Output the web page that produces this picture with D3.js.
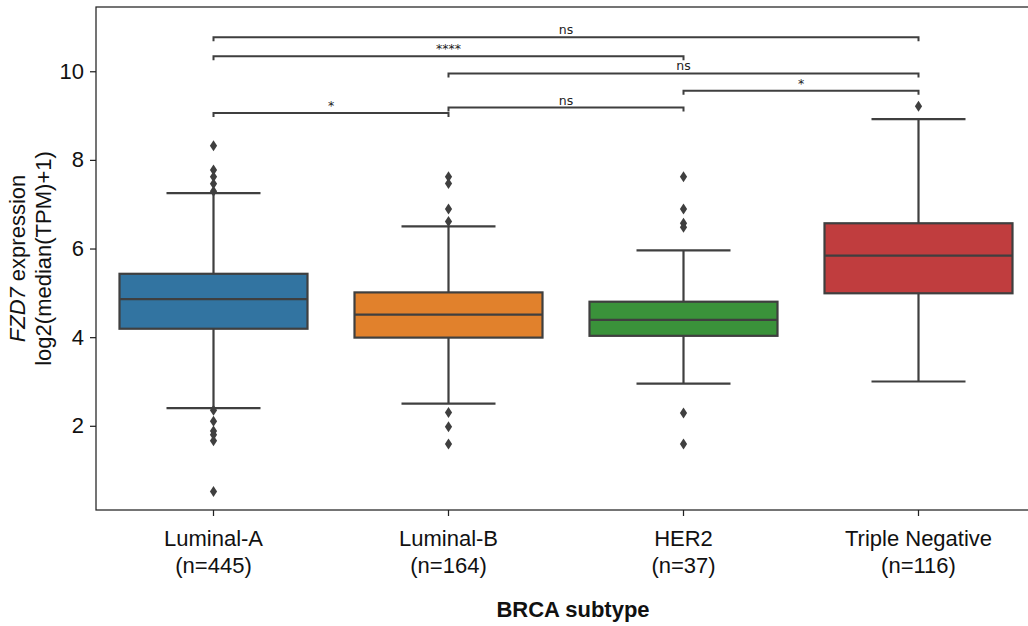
<!DOCTYPE html>
<html lang="en">
<head>
<meta charset="UTF-8">
<title>FZD7 expression by BRCA subtype</title>
<style>
    body { margin: 0; background: #ffffff; }
    svg { display: block; }
    .tick text { font-family: "Liberation Sans", Arial, sans-serif; }
</style>
<script src="https://d3js.org/d3.v7.min.js"></script>
</head>
<body>
<svg id="chart" width="1028" height="626"></svg>
<script>
    // subtypes and sample sizes
    const categories = ["Luminal-A", "Luminal-B", "HER2", "Triple Negative"];
    const counts = [445, 164, 37, 116];
    const colors = ["#3274a1", "#e1812c", "#3a923a", "#c03d3e"];

    // box statistics
    const whiskerLow = [2.40, 2.50, 2.95, 3.00];
    const q1 = [4.19, 3.99, 4.03, 4.99];
    const median = [4.86, 4.51, 4.39, 5.84];
    const q3 = [5.43, 5.01, 4.80, 6.57];
    const whiskerHigh = [7.25, 6.50, 5.96, 8.92];
    const outliers = [
        [8.32, 7.77, 7.62, 7.46, 7.29, 2.35, 2.10, 1.88, 1.80, 1.66, 0.52],
        [7.62, 7.47, 6.89, 6.61, 2.30, 1.98, 1.59],
        [7.62, 6.89, 6.57, 6.48, 2.29, 1.59],
        [9.21]
    ];

    // significance brackets: pair of groups, label, height
    const pairs = [[0, 1], [1, 2], [2, 3], [1, 3], [0, 2], [0, 3]];
    const pLabels = ["*", "ns", "*", "ns", "****", "ns"];
    const pLevels = [9.06, 9.18, 9.56, 9.95, 10.34, 10.77];

    const yTicks = [2, 4, 6, 8, 10];

    const svg = d3.select("#chart");
    const mLeft = 96, mRight = 1036, mTop = 7, mBottom = 510;
    const grey = "#3f3f3f";

    const x = d3.scaleBand().domain(categories).range([mLeft, mRight]).padding(0);
    const y = d3.scaleLinear().domain([0.1, 11.45]).range([mBottom, mTop]);
    const bw = x.bandwidth() * 0.8;
    const cx = i => x(categories[i]) + x.bandwidth() / 2;

    // frame
    svg.append("rect")
        .attr("x", mLeft).attr("y", mTop)
        .attr("width", mRight - mLeft).attr("height", mBottom - mTop)
        .attr("fill", "none").attr("stroke", "#222").attr("stroke-width", 1.25);

    // boxes
    const g = svg.append("g");
    categories.forEach((c, i) => {
        const xc = cx(i);
        const grp = g.append("g");
        grp.append("line")
            .attr("x1", xc).attr("x2", xc)
            .attr("y1", y(q3[i])).attr("y2", y(whiskerHigh[i]))
            .attr("stroke", grey).attr("stroke-width", 2.2);
        grp.append("line")
            .attr("x1", xc).attr("x2", xc)
            .attr("y1", y(q1[i])).attr("y2", y(whiskerLow[i]))
            .attr("stroke", grey).attr("stroke-width", 2.2);
        [whiskerHigh[i], whiskerLow[i]].forEach(v => {
            grp.append("line")
                .attr("x1", xc - bw / 4).attr("x2", xc + bw / 4)
                .attr("y1", y(v)).attr("y2", y(v))
                .attr("stroke", grey).attr("stroke-width", 2.2);
        });
        grp.append("rect")
            .attr("x", xc - bw / 2).attr("width", bw)
            .attr("y", y(q3[i])).attr("height", y(q1[i]) - y(q3[i]))
            .attr("fill", colors[i]).attr("stroke", grey).attr("stroke-width", 2.2);
        grp.append("line")
            .attr("x1", xc - bw / 2).attr("x2", xc + bw / 2)
            .attr("y1", y(median[i])).attr("y2", y(median[i]))
            .attr("stroke", grey).attr("stroke-width", 2.2);
        grp.selectAll("path.out")
            .data(outliers[i])
            .enter().append("path")
            .attr("class", "out")
            .attr("d", "M0,-5.5L3.6,0L0,5.5L-3.6,0Z")
            .attr("transform", d => `translate(${xc},${y(d)})`)
            .attr("fill", grey);
    });

    // significance annotations
    const ann = svg.append("g");
    pairs.forEach((p, k) => {
        const x1 = cx(p[0]), x2 = cx(p[1]), yl = y(pLevels[k]);
        ann.append("path")
            .attr("d", `M${x1},${yl + 4}V${yl}H${x2}V${yl + 4}`)
            .attr("fill", "none").attr("stroke", grey).attr("stroke-width", 2);
        ann.append("text")
            .attr("x", (x1 + x2) / 2)
            .attr("y", yl - 3)
            .attr("text-anchor", "middle")
            .attr("font-family", "DejaVu Sans, sans-serif")
            .attr("font-size", 12.5)
            .attr("fill", "#222")
            .text(pLabels[k]);
    });

    // y axis
    const yAxis = svg.append("g")
        .attr("transform", `translate(${mLeft},0)`)
        .call(d3.axisLeft(y).tickValues(yTicks).tickSize(6).tickPadding(6));
    yAxis.select(".domain").remove();
    yAxis.selectAll(".tick line").attr("stroke", "#222").attr("stroke-width", 1.25);
    yAxis.selectAll(".tick text").attr("font-size", 22).attr("fill", "#111");

    // x axis
    const xAxis = svg.append("g")
        .attr("transform", `translate(0,${mBottom})`)
        .call(d3.axisBottom(x).tickSize(6).tickPadding(10));
    xAxis.select(".domain").remove();
    xAxis.selectAll(".tick line").attr("stroke", "#222").attr("stroke-width", 1.25);
    xAxis.selectAll(".tick text").remove();
    xAxis.selectAll(".tick").each(function(d, i) {
        const t = d3.select(this).append("text")
            .attr("text-anchor", "middle")
            .attr("font-size", 22)
            .attr("fill", "#111");
        t.append("tspan").attr("x", 0).attr("y", 36).text(d);
        t.append("tspan").attr("x", 0).attr("y", 63).text(`(n=${counts[i]})`);
    });

    // axis titles
    svg.append("text")
        .attr("x", 573)
        .attr("y", 617)
        .attr("text-anchor", "middle")
        .attr("font-family", "Liberation Sans, Arial, sans-serif")
        .attr("font-size", 22)
        .attr("font-weight", "bold")
        .attr("fill", "#111")
        .text("BRCA subtype");

    const yl = svg.append("text")
        .attr("transform", `translate(0,${(mTop + mBottom) / 2}) rotate(-90)`)
        .attr("text-anchor", "middle")
        .attr("font-family", "Liberation Sans, Arial, sans-serif")
        .attr("font-size", 22)
        .attr("fill", "#111");
    const l1 = yl.append("tspan").attr("x", 0).attr("y", 25);
    l1.append("tspan").attr("font-style", "italic").text("FZD7");
    l1.append("tspan").text(" expression");
    yl.append("tspan").attr("x", 0).attr("y", 51).text("log2(median(TPM)+1)");
</script>
</body>
</html>
